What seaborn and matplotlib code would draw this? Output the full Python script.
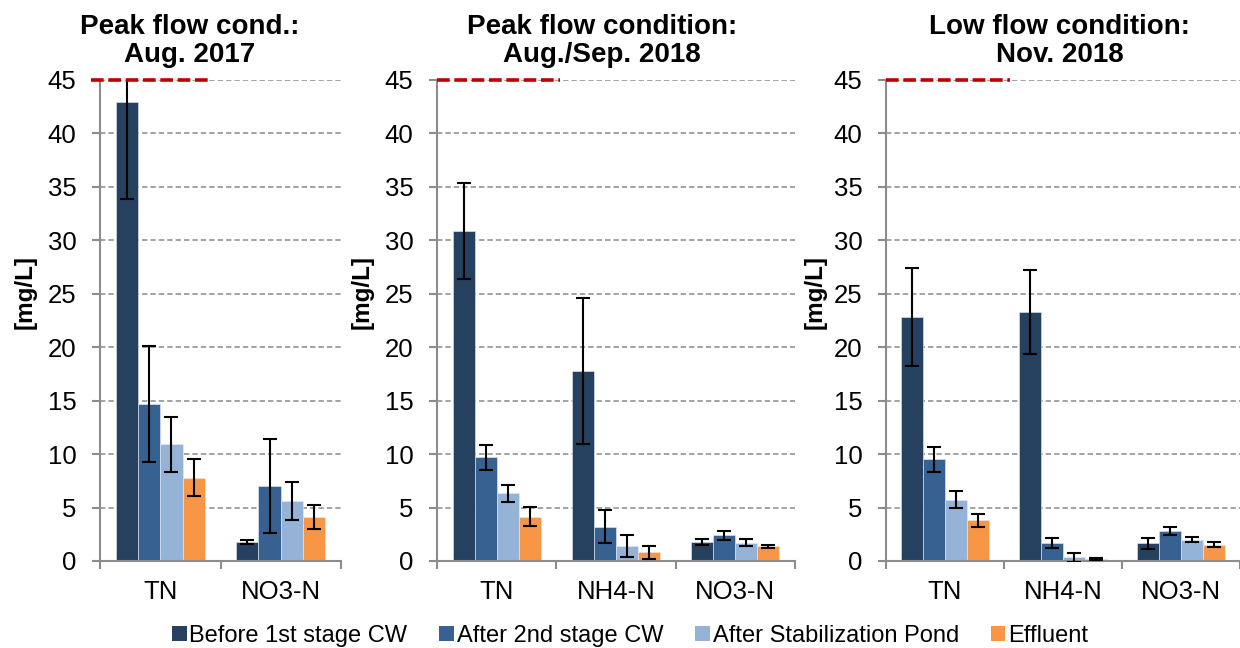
import matplotlib
matplotlib.use("Agg")
import matplotlib.pyplot as plt
import seaborn as sns
import pandas as pd
from matplotlib.patches import Patch, Rectangle

# ---------------- data ----------------
stages = ["Before 1st stage CW", "After 2nd stage CW", "After Stabilization Pond", "Effluent"]
stage_colors = ["#26405F", "#376190", "#95B3D7", "#F79646"]

titles = ["Peak flow cond.:\nAug. 2017",
          "Peak flow condition:\nAug./Sep. 2018",
          "Low flow condition:\nNov. 2018"]

p1_params = ["TN", "NO3-N"]
p1_means = [[42.9, 1.8], [14.7, 7.0], [10.9, 5.6], [7.8, 4.1]]
p1_sds = [[9.0, 0.2], [5.4, 4.4], [2.6, 1.8], [1.7, 1.1]]

p2_params = ["TN", "NH4-N", "NO3-N"]
p2_means = [[30.9, 17.8, 1.8], [9.7, 3.2, 2.4], [6.35, 1.4, 1.7], [4.15, 0.8, 1.37]]
p2_sds = [[4.5, 6.85, 0.3], [1.15, 1.55, 0.45], [0.8, 1.05, 0.33], [0.9, 0.65, 0.15]]

p3_params = ["TN", "NH4-N", "NO3-N"]
p3_means = [[22.8, 23.3, 1.64], [9.5, 1.67, 2.83], [5.75, 0.35, 1.98], [3.8, 0.16, 1.54]]
p3_sds = [[4.6, 3.9, 0.5], [1.15, 0.45, 0.38], [0.8, 0.4, 0.23], [0.6, 0.1, 0.23]]

limit_value = 45
y_ticks = [0, 5, 10, 15, 20, 25, 30, 35, 40, 45]
y_label = "[mg/L]"

# ---------------- style ----------------
sns.set_theme(style="white")
plt.rcParams["font.family"] = ["Liberation Sans", "DejaVu Sans"]
plt.rcParams["text.color"] = "black"
plt.rcParams["axes.labelcolor"] = "black"
plt.rcParams["xtick.color"] = "black"
plt.rcParams["ytick.color"] = "black"

GREY = "#8C8C8C"
GRID = "#8A8A8A"
BAR_WIDTH = 0.74

fig = plt.figure(figsize=(12.4, 6.48), dpi=100)
W, H = 1240.0, 648.0
bottom = 1 - 561 / H
height = (561 - 80) / H
axes_px = [(100, 241), (437, 358), (886, 354)]
title_x = [0.373, 0.461, 0.49]
label_x = [-0.262, -0.178, -0.167]
red_span = [(-0.037, 0.456), (0.0, 0.344), (0.0, 0.35)]

panels = [(p1_params, p1_means, p1_sds),
          (p2_params, p2_means, p2_sds),
          (p3_params, p3_means, p3_sds)]

for i, (params, means, sds) in enumerate(panels):
    left, width = axes_px[i]
    ax = fig.add_axes([left / W, bottom, width / W, height])

    rows = []
    for s, stage in enumerate(stages):
        for j, p in enumerate(params):
            rows.append({"param": p, "stage": stage, "value": means[s][j]})
    df = pd.DataFrame(rows)

    sns.barplot(data=df, x="param", y="value", hue="stage", order=params,
                hue_order=stages, palette=stage_colors, saturation=1,
                width=BAR_WIDTH, errorbar=None, legend=False, ax=ax,
                edgecolor="#E6ECF4", linewidth=0.4, zorder=2)

    # error bars placed on the drawn bars
    step = BAR_WIDTH / len(stages)
    for bar in ax.patches:
        if not isinstance(bar, Rectangle):
            continue
        xc = bar.get_x() + bar.get_width() / 2
        j = int(round(xc))
        s = int(round((xc - j + BAR_WIDTH / 2) / step - 0.5))
        if 0 <= j < len(params) and 0 <= s < len(stages):
            ax.errorbar(xc, bar.get_height(), yerr=sds[s][j], fmt="none",
                        ecolor="black", elinewidth=1.5, capsize=5.3,
                        capthick=1.5, zorder=4)

    n = len(params)
    ax.set_xlim(-0.5, n - 0.5)
    ax.set_ylim(0, 45)
    ax.set_yticks(y_ticks)
    ax.set_yticklabels([str(t) for t in y_ticks])
    ax.yaxis.grid(True, color=GRID, linestyle=(0, (3.5, 2.0)), linewidth=1.1, zorder=0)
    ax.xaxis.grid(False)
    ax.set_axisbelow(True)

    ax.set_xticks(range(n))
    ax.set_xticklabels(params)
    ax.set_xticks([k - 0.5 for k in range(n + 1)], minor=True)
    ax.tick_params(axis="x", which="major", length=0, pad=14, labelsize=18.5, labelcolor="black")
    ax.tick_params(axis="x", which="minor", length=6, width=1.5, color=GREY, direction="out")
    ax.tick_params(axis="y", which="major", length=6, width=1.5, color=GREY,
                   direction="out", pad=11, labelsize=18.5, labelcolor="black")
    ax.tick_params(left=True, bottom=True, which="both")

    for side in ["top", "right"]:
        ax.spines[side].set_visible(False)
    for side in ["left", "bottom"]:
        ax.spines[side].set_color(GREY)
        ax.spines[side].set_linewidth(1.5)

    ax.set_xlabel("")
    ax.set_ylabel(y_label, fontsize=17.5, fontweight="bold", color="black")
    ax.yaxis.set_label_coords(label_x[i], 0.56)

    # limit line
    x0, x1 = red_span[i]
    ax.axhline(limit_value, xmin=x0, xmax=x1, color="#C00000", linewidth=2.6,
               linestyle=(0, (3.5, 1.3)), clip_on=False, zorder=5)

    ax.text(title_x[i], 1 + 18 / 481, titles[i], transform=ax.transAxes,
            ha="center", va="baseline", fontsize=20, fontweight="bold",
            linespacing=1.12, color="black")

handles = [Patch(facecolor=c, edgecolor="none") for c in stage_colors]
leg = fig.legend(handles, stages, loc="center", bbox_to_anchor=(630 / W, 1 - 636 / H),
                 ncol=4, frameon=False, fontsize=17, handlelength=0.62, handleheight=0.62,
                 handletextpad=0.12, columnspacing=1.35, borderpad=0)
for t in leg.get_texts():
    t.set_color("black")

fig.savefig("out.png", dpi=100)
